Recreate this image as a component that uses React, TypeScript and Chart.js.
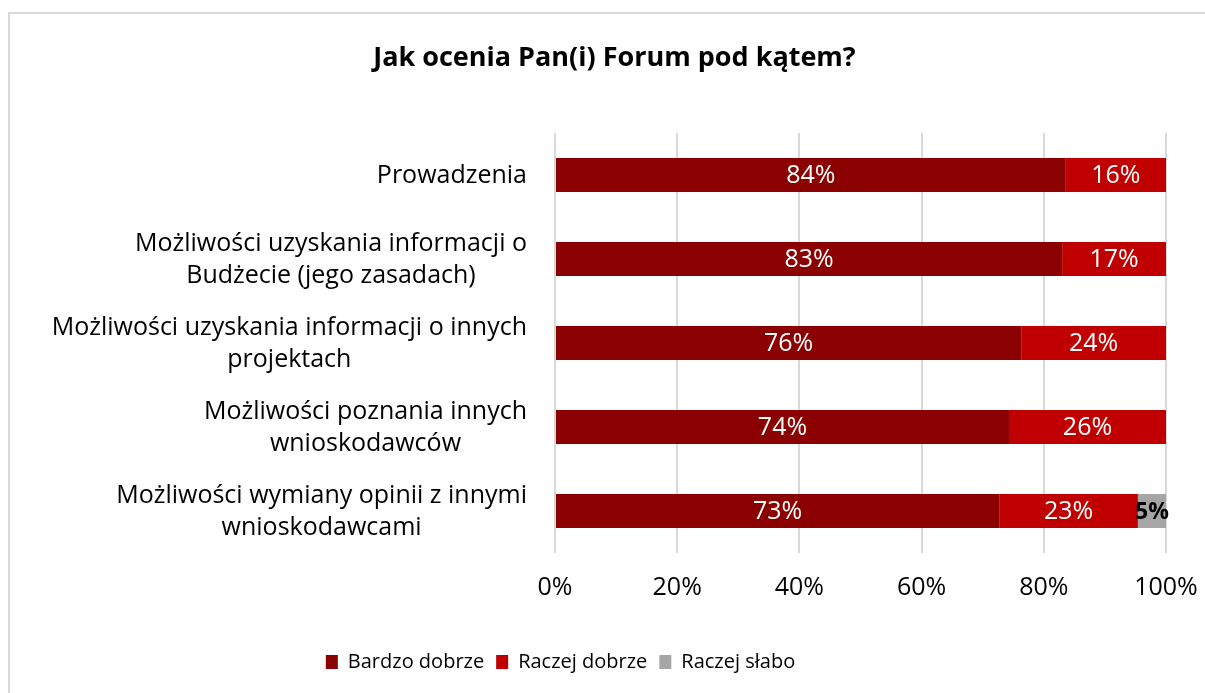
import React, { useEffect, useRef } from "react";
import { Chart, registerables } from "chart.js";

Chart.register(...registerables);

const categories: string[][] = [
  ["Prowadzenia"],
  ["Możliwości uzyskania informacji o", "Budżecie (jego zasadach)"],
  ["Możliwości uzyskania informacji o innych", "projektach"],
  ["Możliwości poznania innych", "wnioskodawców"],
  ["Możliwości wymiany opinii z innymi", "wnioskodawcami"],
];

const bardzoDobrze = [83.6, 83.0, 76.3, 74.3, 72.7];
const raczejDobrze = [16.4, 17.0, 23.7, 25.7, 22.7];
const raczejSlabo = [0, 0, 0, 0, 4.6];

const xTicks = [0, 20, 40, 60, 80, 100];

const FONT = "'Open Sans', sans-serif";
const FS = 25;
const LEGEND_FS = 20;

const valueLabels = {
  id: "valueLabels",
  afterDatasetsDraw(chart: any) {
    const ctx = chart.ctx;
    chart.data.datasets.forEach((ds: any, di: number) => {
      const meta = chart.getDatasetMeta(di);
      meta.data.forEach((bar: any, i: number) => {
        const v = ds.data[i];
        if (!v) return;
        const cx = (bar.x + bar.base) / 2;
        ctx.save();
        ctx.textAlign = "center";
        ctx.textBaseline = "middle";
        if (di === 2) {
          ctx.fillStyle = "#000";
          ctx.font = `bold ${FS - 2}px ${FONT}`;
        } else {
          ctx.fillStyle = "#fff";
          ctx.font = `${FS}px ${FONT}`;
        }
        ctx.fillText(Math.round(v) + "%", cx, bar.y + 1);
        ctx.restore();
      });
    });
  },
};

const yLabels = {
  id: "yLabels",
  afterDraw(chart: any) {
    const ctx = chart.ctx;
    const scale = chart.scales.y;
    const right = scale.right - 28;
    const lh = 32;
    ctx.save();
    ctx.font = `${FS}px ${FONT}`;
    ctx.fillStyle = "#000";
    ctx.textAlign = "center";
    ctx.textBaseline = "middle";
    categories.forEach((lines, i) => {
      const y = scale.getPixelForTick(i);
      const w = Math.max(...lines.map((l) => ctx.measureText(l).width));
      const cx = right - w / 2;
      const top = y - ((lines.length - 1) * lh) / 2;
      lines.forEach((l, j) => ctx.fillText(l, cx, top + j * lh + 1));
    });
    ctx.restore();
  },
};

const legendShift = {
  id: "legendShift",
  afterLayout(chart: any) {
    const lg = chart.legend;
    if (lg) {
      lg.left -= 54;
      lg.right -= 54;
      lg.top += 17;
      lg.bottom += 17;
    }
  },
};

export default function App() {
  const ref = useRef<HTMLCanvasElement>(null);
  useEffect(() => {
    if (!ref.current) return;
    const chart = new Chart(ref.current, {
      type: "bar",
      data: {
        labels: categories.map((c) => c.join(" ")),
        datasets: [
          { label: "Bardzo dobrze", data: bardzoDobrze, backgroundColor: "#8B0000" },
          { label: "Raczej dobrze", data: raczejDobrze, backgroundColor: "#C00000" },
          { label: "Raczej słabo", data: raczejSlabo, backgroundColor: "#A6A6A6" },
        ],
      },
      options: {
        indexAxis: "y",
        animation: false,
        responsive: false,
        maintainAspectRatio: false,
        devicePixelRatio: 1,
        categoryPercentage: 1,
        barPercentage: 0.405,
        layout: { padding: { left: 14, right: 0, top: 0, bottom: 28 } },
        scales: {
          x: {
            stacked: true,
            min: 0,
            max: 100,
            afterBuildTicks: (s: any) => {
              s.ticks = xTicks.map((v) => ({ value: v }));
            },
            afterFit: (s: any) => {
              s.paddingRight = 39;
              s.paddingLeft = 0;
            },
            ticks: {
              callback: (v: any) => v + "%",
              font: { family: FONT, size: FS },
              color: "#000",
              padding: 20,
              maxRotation: 0,
            },
            grid: { color: "#d9d9d9", lineWidth: 2, drawTicks: false },
            border: { display: false },
          },
          y: {
            stacked: true,
            ticks: { display: false },
            grid: { display: false, drawTicks: false },
            border: { display: false },
            afterFit: (s: any) => {
              s.width = 531;
            },
          },
        },
        plugins: {
          title: {
            display: true,
            text: "Jak ocenia Pan(i) Forum pod kątem?",
            font: { family: FONT, size: 27, weight: "bold" },
            color: "#000",
            padding: { top: 27.8, bottom: 58.8 },
          },
          legend: {
            position: "bottom",
            labels: {
              font: { family: FONT, size: LEGEND_FS },
              color: "#000",
              boxWidth: 12,
              boxHeight: 14,
              padding: 12,
            },
          },
          tooltip: { enabled: false },
        },
      },
      plugins: [valueLabels, yLabels, legendShift],
    });
    return () => chart.destroy();
  }, []);
  return (
    <div
      style={{
        position: "absolute",
        left: 8,
        top: 12,
        width: 1197,
        height: 681,
        borderTop: "2px solid #d9d9d9",
        borderLeft: "2px solid #d9d9d9",
        boxSizing: "border-box",
        background: "#fff",
      }}
    >
      <canvas ref={ref} width={1195} height={679} style={{ display: "block" }} />
    </div>
  );
}
